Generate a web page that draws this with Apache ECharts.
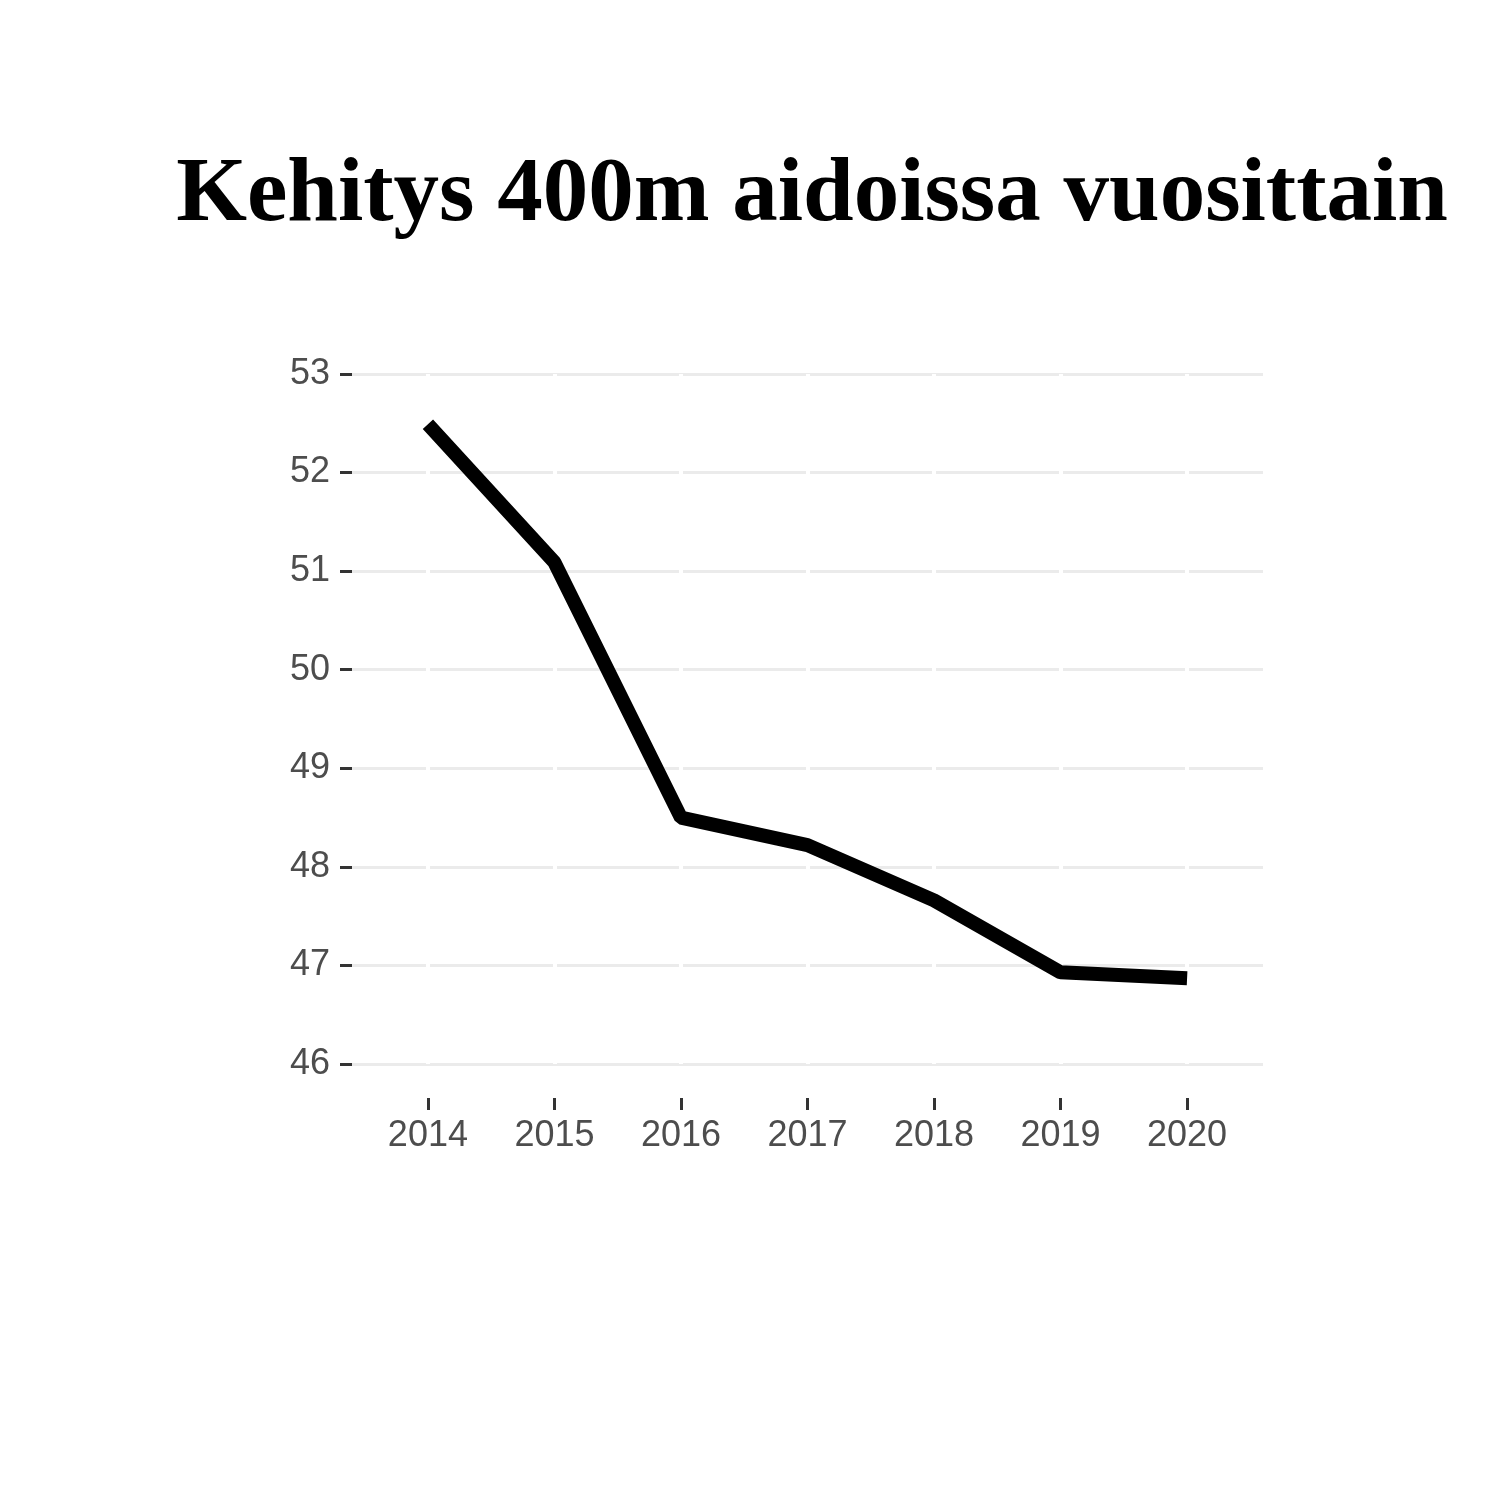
<!DOCTYPE html>
<html>
<head>
<meta charset="utf-8">
<script src="https://cdn.jsdelivr.net/npm/echarts@6/dist/echarts.min.js"></script>
<style>html,body{margin:0;padding:0;background:#fff}#c{width:1500px;height:1500px}</style>
</head>
<body>
<div id="c"></div>
<script>
const years = [2014, 2015, 2016, 2017, 2018, 2019, 2020];
const times = [52.49, 51.09, 48.50, 48.22, 47.66, 46.93, 46.87];
const yTicks = [46, 47, 48, 49, 50, 51, 52, 53];
const titleText = 'Kehitys 400m aidoissa vuosittain';

const chart = echarts.init(document.getElementById('c'), null, {renderer: 'canvas'});
chart.setOption({
  backgroundColor: '#ffffff',
  animation: false,
  title: {
    text: titleText,
    left: 807, top: 146, textAlign: 'center',
    textStyle: {fontFamily: 'Liberation Serif', fontWeight: 'bold', fontSize: 91, color: '#000'}
  },
  grid: {left: 352, top: 374, width: 911, height: 690, containLabel: false},
  xAxis: {
    type: 'value', min: 2013.4, max: 2020.6, offset: 34,
    axisLine: {show: false},
    axisTick: {show: true, customValues: years, length: 12, lineStyle: {color: '#333', width: 3}},
    axisLabel: {customValues: years, formatter: v => String(v), color: '#4d4d4d', fontSize: 36, fontFamily: 'Liberation Sans', margin: 20},
    splitLine: {show: false}
  },
  yAxis: {
    type: 'value', min: yTicks[0], max: yTicks[yTicks.length - 1], interval: 1,
    axisLine: {show: false},
    axisTick: {show: true, length: 12, lineStyle: {color: '#333', width: 3}},
    axisLabel: {color: '#4d4d4d', fontSize: 36, fontFamily: 'Liberation Sans', margin: 22, padding: [6, 0, 0, 0]},
    splitLine: {show: true, lineStyle: {color: '#ebebeb', width: 3}}
  },
  series: [{
    type: 'line',
    data: years.map((y, i) => [y, times[i]]),
    showSymbol: false,
    z: 2,
    lineStyle: {color: '#000', width: 14, cap: 'butt', join: 'bevel'},
    markLine: {
      z: 1, silent: true, symbol: 'none', label: {show: false},
      lineStyle: {color: '#ffffff', width: 4, type: 'solid'},
      data: years.map(y => ({xAxis: y}))
    }
  }]
});
</script>
</body>
</html>
